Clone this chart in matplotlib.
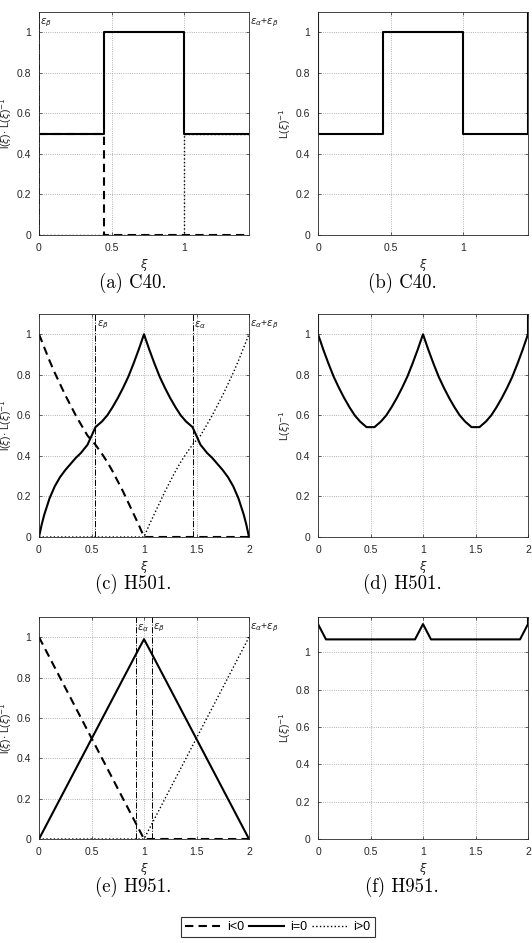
import numpy as np
import matplotlib
matplotlib.use("Agg")
import matplotlib.pyplot as plt

plt.rcParams['font.family'] = ['Liberation Sans', 'DejaVu Sans']
plt.rcParams['mathtext.fontset'] = 'dejavusans'

# ---- C40 ----
xi_c40 = [0, 0.445, 0.445, 1.0, 1.0, 1.447]
neg_c40 = [0.5, 0.5, 0.0, 0.0, 0.0, 0.0]
zero_c40 = [0.5, 0.5, 1.0, 1.0, 0.5, 0.5]
pos_c40 = [0.0, 0.0, 0.0, 0.0, 0.5, 0.5]
xi_c40_L = [0, 0, 0.445, 0.445, 1.0, 1.0, 1.447, 1.447]
linv_c40 = [1.3, 0.5, 0.5, 1.0, 1.0, 0.5, 0.5, 1.3]
eps_c40 = [0.0, 1.447]
eps_c40_lab = [r'$\varepsilon_\beta$', r'$\varepsilon_\alpha$+$\varepsilon_\beta$']

# ---- H501 ----
xi_h501 = [0, 0.025, 0.05, 0.1, 0.15, 0.2, 0.25, 0.3, 0.35, 0.4, 0.462,
           0.538, 0.6, 0.65, 0.7, 0.75, 0.8, 0.85, 0.9, 0.95, 1.0,
           1.05, 1.1, 1.15, 1.2, 1.25, 1.3, 1.35, 1.4, 1.462,
           1.538, 1.6, 1.65, 1.7, 1.75, 1.8, 1.85, 1.9, 1.95, 1.975, 2.0]
neg_h501 = [1.0, 0.968, 0.935, 0.87, 0.81, 0.755, 0.70, 0.65, 0.60, 0.555, 0.5,
            0.455, 0.41, 0.37, 0.325, 0.275, 0.225, 0.17, 0.115, 0.06, 0.0,
            0, 0, 0, 0, 0, 0, 0, 0, 0,
            0, 0, 0, 0, 0, 0, 0, 0, 0, 0, 0]
zero_h501 = [0, 0.06, 0.11, 0.19, 0.25, 0.295, 0.33, 0.36, 0.39, 0.415, 0.455,
             0.542, 0.57, 0.60, 0.64, 0.685, 0.735, 0.79, 0.855, 0.925, 1.0,
             0.925, 0.855, 0.79, 0.735, 0.685, 0.64, 0.60, 0.57, 0.542,
             0.455, 0.415, 0.39, 0.36, 0.33, 0.295, 0.25, 0.19, 0.11, 0.06, 0]
pos_h501 = [0, 0, 0, 0, 0, 0, 0, 0, 0, 0, 0,
            0, 0, 0, 0, 0, 0, 0, 0, 0, 0,
            0.06, 0.115, 0.17, 0.225, 0.275, 0.325, 0.37, 0.41, 0.455,
            0.5, 0.555, 0.60, 0.65, 0.70, 0.755, 0.81, 0.87, 0.935, 0.968, 1.0]
xi_h501_L = [0, 0, 0.025, 0.05, 0.1, 0.15, 0.2, 0.25, 0.3, 0.35, 0.4, 0.462,
             0.538, 0.6, 0.65, 0.7, 0.75, 0.8, 0.85, 0.9, 0.95, 1.0,
             1.05, 1.1, 1.15, 1.2, 1.25, 1.3, 1.35, 1.4, 1.462,
             1.538, 1.6, 1.65, 1.7, 1.75, 1.8, 1.85, 1.9, 1.95, 1.975, 2.0, 2.0]
linv_h501 = [1.3, 1.0, 0.963, 0.925, 0.855, 0.79, 0.735, 0.685, 0.64, 0.60, 0.57, 0.542,
             0.542, 0.57, 0.60, 0.64, 0.685, 0.735, 0.79, 0.855, 0.925, 1.0,
             0.925, 0.855, 0.79, 0.735, 0.685, 0.64, 0.60, 0.57, 0.542,
             0.542, 0.57, 0.60, 0.64, 0.685, 0.735, 0.79, 0.855, 0.925, 0.963, 1.0, 1.3]
eps_h501 = [0.538, 1.462, 2.0]
eps_h501_lab = [r'$\varepsilon_\beta$', r'$\varepsilon_\alpha$', r'$\varepsilon_\alpha$+$\varepsilon_\beta$']

# ---- H951 ----
xi_h951 = [0, 0.928, 1.0, 1.072, 2.0]
neg_h951 = [1.0, 0.072, 0.0, 0.0, 0.0]
zero_h951 = [0.0, 0.92, 0.99, 0.92, 0.0]
pos_h951 = [0.0, 0.0, 0.0, 0.072, 1.0]
xi_h951_L = [0, 0, 0.076, 0.924, 1.0, 1.076, 1.924, 2.0, 2.0]
linv_h951 = [1.3, 1.152, 1.07, 1.07, 1.152, 1.07, 1.07, 1.152, 1.3]
eps_h951 = [0.928, 1.076, 2.0]
eps_h951_lab = [r'$\varepsilon_\alpha$', r'$\varepsilon_\beta$', r'$\varepsilon_\alpha$+$\varepsilon_\beta$']

captions = ['(a) C40.', '(b) C40.', '(c) H501.', '(d) H501.', '(e) H951.', '(f) H951.']

W, H = 532, 943
fig = plt.figure(figsize=(W / 100, H / 100), dpi=100)

lefts = [39, 318]
tops = [12, 314, 617]
bottoms = [235, 537, 839]
cap_x = [133, 402]
cap_y = [283, 584, 887]
gray = '#262626'


def make_ax(col, row):
    l = lefts[col] / W
    b = 1 - bottoms[row] / H
    ax = fig.add_axes([l, b, 210 / W, (bottoms[row] - tops[row]) / H])
    ax.grid(True, linestyle=':', color='#9a9a9a', linewidth=0.6)
    ax.set_axisbelow(True)
    for s in ax.spines.values():
        s.set_color(gray)
        s.set_linewidth(0.6)
    ax.tick_params(direction='in', length=2.5, width=0.5, labelsize=7.5,
                   colors=gray, top=True, right=True, pad=5.5)
    ax.set_xlabel(r'$\xi$', fontsize=8.5, color=gray, labelpad=3)
    fig.text(cap_x[col] / W, 1 - cap_y[row] / H, captions[row * 2 + col],
             ha='center', va='center', fontsize=13.5, family='cmr10')
    return ax


def lfmt(v):
    return '%g' % v


data = [
    (xi_c40, neg_c40, zero_c40, pos_c40, xi_c40_L, linv_c40, eps_c40, eps_c40_lab, 1.447, [0, 0.5, 1], 1.1),
    (xi_h501, neg_h501, zero_h501, pos_h501, xi_h501_L, linv_h501, eps_h501, eps_h501_lab, 2.0, [0, 0.5, 1, 1.5, 2], 1.1),
    (xi_h951, neg_h951, zero_h951, pos_h951, xi_h951_L, linv_h951, eps_h951, eps_h951_lab, 2.0, [0, 0.5, 1, 1.5, 2], 1.19),
]

yt = [0, 0.2, 0.4, 0.6, 0.8, 1.0]
handles = None
for row, (xi, neg, zero, pos, xiL, linv, eps, eps_lab, xmax, xt, ytop) in enumerate(data):
    ax = make_ax(0, row)
    for e, lab in zip(eps, eps_lab):
        ax.plot([e, e], [0, 1.1], linestyle='-.', color='black', linewidth=0.7)
        ax.text(e + 0.01, 1.045, lab, fontsize=7.5, color=gray, ha='left', va='center', clip_on=False)
    h1, = ax.plot(xi, neg, color='black', linewidth=1.5, dashes=(4, 2.5), label='i<0')
    h2, = ax.plot(xi, zero, color='black', linewidth=1.5, linestyle='-', label='i=0')
    h3, = ax.plot(xi, pos, color='black', linewidth=1.0, linestyle=':', label='i>0')
    handles = [h1, h2, h3]
    ax.set_xlim(0, xmax)
    ax.set_ylim(0, 1.1)
    ax.set_xticks(xt)
    ax.set_xticklabels([lfmt(v) for v in xt])
    ax.set_yticks(yt)
    ax.set_yticklabels([lfmt(v) for v in yt])
    ax.set_ylabel(r'l($\xi$)$\cdot$ L($\xi$)$^{-1}$', fontsize=7.5, color=gray, labelpad=2)

    ax2 = make_ax(1, row)
    ax2.plot(xiL, linv, color='black', linewidth=1.5)
    ax2.set_xlim(0, xmax)
    ax2.set_ylim(0, ytop)
    ax2.set_xticks(xt)
    ax2.set_xticklabels([lfmt(v) for v in xt])
    ax2.set_yticks(yt)
    ax2.set_yticklabels([lfmt(v) for v in yt])
    ax2.set_ylabel(r'L($\xi$)$^{-1}$', fontsize=7.5, color=gray, labelpad=2)

leg = fig.legend(handles, ['i<0', 'i=0', 'i>0'], loc='center', ncol=3,
                 bbox_to_anchor=(278 / W, 1 - 927 / H), fontsize=9, frameon=True,
                 fancybox=False, edgecolor='black', handlelength=2.8, handletextpad=0.5,
                 columnspacing=0.4, borderpad=0.35)
leg.get_frame().set_linewidth(0.8)

fig.savefig('out.png', dpi=100)
